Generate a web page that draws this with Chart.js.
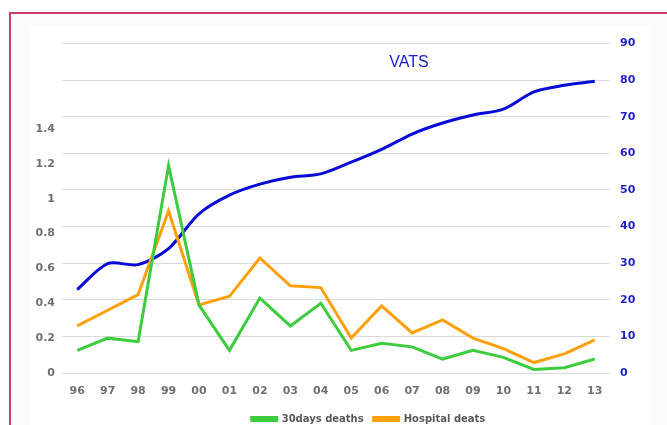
<!DOCTYPE html>
<html>
<head>
<meta charset="utf-8">
<script src="https://cdn.jsdelivr.net/npm/chart.js@4.4.1/dist/chart.umd.min.js"></script>
<style>
  html, body { margin: 0; padding: 0; background: #ffffff; overflow: hidden; }
  #frame {
    position: absolute; left: 9px; top: 12px; width: 700px; height: 450px;
    border-left: 2px solid #c93c66; border-top: 2px solid #c93c66;
    background: #fcf9fa;
  }
  #box {
    position: absolute; left: 29px; top: 27px; width: 623px; height: 398px;
    background: #ffffff;
  }
</style>
</head>
<body>
<div id="frame"></div>
<div id="box"><canvas id="vatsChart" width="623" height="398"></canvas></div>
<script>
// years on the x axis
var years = ['96', '97', '98', '99', '00', '01', '02', '03', '04', '05', '06', '07', '08', '09', '10', '11', '12', '13'];

// VATS share (right axis)
var vatsValues = [22.8, 29.9, 29.6, 34.0, 43.5, 48.6, 51.6, 53.5, 54.4, 57.6, 61.1, 65.3, 68.3, 70.5, 72.1, 76.8, 78.6, 79.7];

// mortality (left axis)
var deaths30 = [0.13, 0.20, 0.18, 1.19, 0.39, 0.13, 0.43, 0.27, 0.40, 0.13, 0.17, 0.15, 0.08, 0.13, 0.09, 0.02, 0.03, 0.08];
var hospitalDeaths = [0.27, 0.36, 0.45, 0.93, 0.39, 0.44, 0.66, 0.50, 0.49, 0.20, 0.385, 0.23, 0.305, 0.20, 0.14, 0.06, 0.11, 0.19];

var leftTicks = [0, 0.2, 0.4, 0.6, 0.8, 1, 1.2, 1.4];
var rightTicks = [0, 10, 20, 30, 40, 50, 60, 70, 80, 90];

var tickFont = { family: 'DejaVu Sans', size: 11, weight: 'bold' };

// "VATS" caption inside the plot
const vatsLabel = {
    id: 'vatsLabel',
    afterDatasetsDraw(chart) {
        const ctx = chart.ctx;
        const area = chart.chartArea;
        ctx.save();
        ctx.font = '16px "Liberation Sans"';
        ctx.fillStyle = '#1a1ad2';
        ctx.textAlign = 'center';
        ctx.textBaseline = 'middle';
        ctx.fillText('VATS', area.left + 347, area.top + 19);
        ctx.restore();
    }
};

// the legend sits a bit right of centre and lower, like the original
const nudgeLegend = {
    id: 'nudgeLegend',
    afterUpdate(chart) {
        const lg = chart.legend;
        if (!lg) return;
        lg.left += 28; lg.right += 28;
        lg.top += 9; lg.bottom += 9;
    }
};

new Chart(document.getElementById('vatsChart'), {
    type: 'line',
    data: {
        labels: years,
        datasets: [
            {
                label: '30days deaths',
                data: deaths30,
                yAxisID: 'yLeft',
                borderColor: '#3dcc3d',
                backgroundColor: '#3dcc3d',
                borderWidth: 3,
                pointRadius: 0,
                tension: 0
            },
            {
                label: 'Hospital deats',
                data: hospitalDeaths,
                yAxisID: 'yLeft',
                borderColor: '#ffa00a',
                backgroundColor: '#ffa00a',
                borderWidth: 3,
                pointRadius: 0,
                tension: 0
            },
            {
                label: 'VATS',
                data: vatsValues,
                yAxisID: 'yRight',
                borderColor: '#0a0ad6',
                backgroundColor: '#0a0ad6',
                borderWidth: 3,
                pointRadius: 0,
                tension: 0.3
            }
        ]
    },
    options: {
        responsive: false,
        animation: false,
        layout: { padding: { top: 14, left: 0, right: 0, bottom: 0 } },
        plugins: {
            title: { display: false },
            tooltip: { enabled: false },
            legend: {
                position: 'bottom',
                labels: {
                    filter: item => item.text !== 'VATS',
                    boxWidth: 25,
                    boxHeight: 3,
                    padding: 10,
                    color: '#595959',
                    font: { family: 'DejaVu Sans', size: 10, weight: 'bold' }
                }
            }
        },
        scales: {
            x: {
                offset: true,
                grid: { display: false, drawTicks: false },
                border: { display: false },
                ticks: { color: '#707070', font: tickFont, padding: 12, maxRotation: 0 },
                afterFit: s => { s.height = 22; }
            },
            yLeft: {
                position: 'left',
                min: 0,
                max: 1.89,
                grid: { display: false, drawTicks: false },
                border: { display: false },
                afterBuildTicks: s => { s.ticks = leftTicks.map(v => ({ value: v })); },
                ticks: { color: '#707070', font: tickFont, padding: 7, callback: v => String(v) },
                afterFit: s => { s.width = 33; }
            },
            yRight: {
                position: 'right',
                min: 0,
                max: 90,
                grid: { color: '#d9d9d9', lineWidth: 1, drawTicks: false },
                border: { display: false },
                afterBuildTicks: s => { s.ticks = rightTicks.map(v => ({ value: v })); },
                ticks: { color: '#1f1fc8', font: tickFont, padding: 10 },
                afterFit: s => { s.width = 42; }
            }
        }
    },
    plugins: [vatsLabel, nudgeLegend]
});
</script>
</body>
</html>
